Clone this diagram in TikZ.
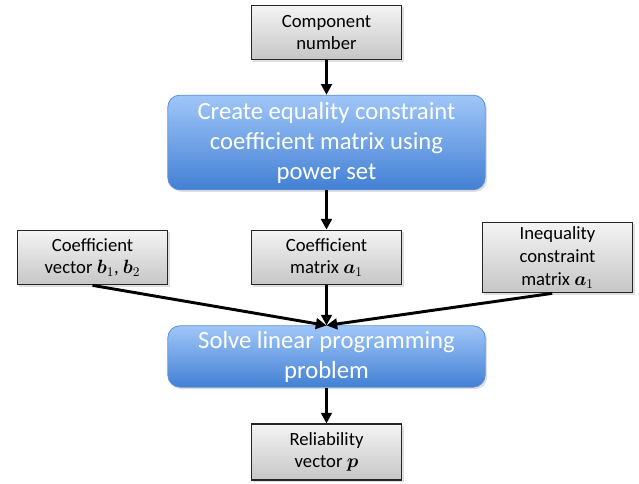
\documentclass[tikz,border=0pt]{standalone}
\usepackage{amsmath}
\usepackage{fontspec}
\setmainfont{Carlito}
\usetikzlibrary{arrows.meta,shadows}
\definecolor{lpTop}{RGB}{160,198,248}
\definecolor{lpBot}{RGB}{66,128,212}
\definecolor{lpEdge}{RGB}{95,145,215}
\definecolor{inTop}{RGB}{244,244,244}
\definecolor{inBot}{RGB}{198,198,198}
\begin{document}
\begin{tikzpicture}[x=0.75pt,y=-0.75pt,
  databox/.style={draw=black!85,line width=0.8pt,top color=inTop,bottom color=inBot,
    drop shadow={opacity=0.25,shadow xshift=1.5pt,shadow yshift=-1.5pt},
    minimum width=113pt,minimum height=41pt,inner sep=0pt,align=center,
    font=\fontsize{14}{17}\selectfont},
  taskbox/.style={draw=lpEdge,line width=0.6pt,rounded corners=9pt,top color=lpTop,bottom color=lpBot,
    drop shadow={opacity=0.25,shadow xshift=1.5pt,shadow yshift=-1.5pt},
    minimum width=238pt,inner sep=0pt,align=center,text=white,
    font=\fontsize{18.5}{22.5}\selectfont},
  flow/.style={-{Triangle[length=8pt,width=8pt]},line width=2.2pt}]
\useasboundingbox (0,0) rectangle (639,484);
% inputs and steps
\node[databox] (comp) at (326.5,32.5) {Component\\number};
\node[taskbox,minimum height=71pt] (create) at (326.5,142.5) {Create equality constraint\\coefficient matrix using\\power set};
\node[databox] (cvec) at (92.5,257.5) {Coefficient\\vector $\boldsymbol{b}_1$, $\boldsymbol{b}_2$};
\node[databox] (cmat) at (326.5,257.5) {Coefficient\\matrix $\boldsymbol{a}_1$};
\node[databox,minimum height=53pt] (ineq) at (557.5,257.5) {Inequality\\constraint\\matrix $\boldsymbol{a}_1$};
\node[taskbox,minimum height=46pt] (solve) at (326.5,356.5) {Solve linear programming\\problem};
\node[databox,minimum height=42pt] (rel) at (326.5,452) {Reliability\\vector $\boldsymbol{p}$};
% connectors
\draw[flow] (comp) -- (create);
\draw[flow] (create) -- (cmat);
\draw[flow] (cmat) -- (solve);
\draw[flow] (cvec.south) -- (solve.north);
\draw[flow] ([xshift=-4pt]ineq.south) -- (solve.north);
\draw[flow] (solve) -- (rel);
\end{tikzpicture}
\end{document}
